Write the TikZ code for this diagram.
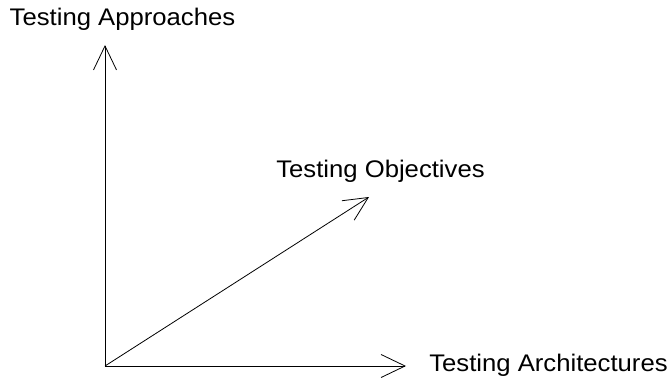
\documentclass[tikz,border=0pt]{standalone}
\usepackage{fontspec}
\setmainfont{Liberation Sans}
\usetikzlibrary{arrows.meta}
\begin{document}
\begin{tikzpicture}[x=1pt,y=1pt,
  axis/.style={line width=0.8pt,-{Straight Barb[length=24pt,width=23pt,line width=0.8pt]}},
  axislabel/.style={anchor=base,inner sep=0pt,xscale=1.07,font=\fontsize{24}{28}\selectfont}]
  \useasboundingbox (0,0) rectangle (669,381);
  % origin and axis end points
  \coordinate (origin) at (105,15);
  \coordinate (approachEnd) at (105,336);
  \coordinate (objectiveEnd) at (369,184);
  \coordinate (architectureEnd) at (406,15);
  % axes
  \draw[axis] (origin) -- (approachEnd);
  \draw[axis] (origin) -- (objectiveEnd);
  \draw[axis] (origin) -- (architectureEnd);
  % labels
  \node[axislabel] (approaches) at (122.5,355) {Testing Approaches};
  \node[axislabel] (objectives) at (380.5,204) {Testing Objectives};
  \node[axislabel] (architectures) at (548.5,10) {Testing Architectures};
\end{tikzpicture}
\end{document}
